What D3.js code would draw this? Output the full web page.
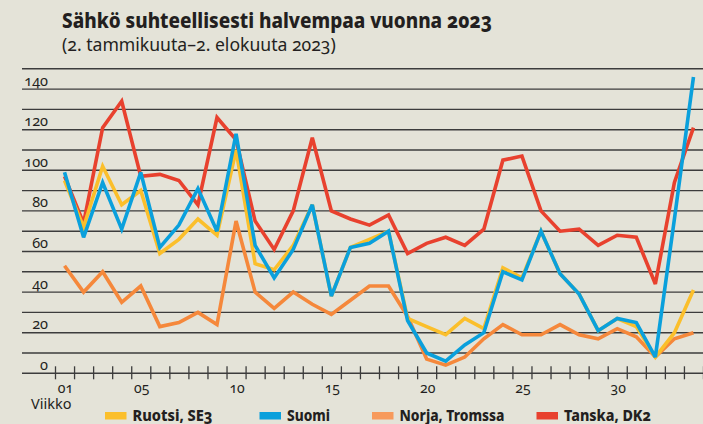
<!DOCTYPE html>
<html>
<head>
<meta charset="utf-8">
<script src="https://cdn.jsdelivr.net/npm/d3@7"></script>
<style>
  html, body { margin: 0; padding: 0; background: #e4e3d8; }
  svg { display: block; font-family: "Noto Sans", "Open Sans", sans-serif; }
  .onum { font-feature-settings: "onum" 1; }
</style>
</head>
<body>
<svg></svg>
<script>
const width = 703;
const height = 424;

// data, week by week (01 .. 34)
const weeks = d3.range(1, 35);
const ruotsi = [95, 72, 102, 83, 90, 59, 66, 76, 68, 110, 54, 51, 63, 83, 38, 62, 66, 70, 27, 23, 19, 27, 22, 52, 47, 70, 49, 39, 21, 27, 23, 8, 20, 41];
const suomi = [99, 67, 94, 71, 99, 62, 73, 91, 70, 118, 63, 47, 61, 83, 38, 62, 64, 70, 26, 10, 6, 14, 20, 50, 46, 70, 49, 39, 21, 27, 25, 8, 76, 146];
const norja = [53, 40, 50, 35, 43, 23, 25, 30, 24, 75, 40, 32, 40, 34, 29, 36, 43, 43, 28, 7, 4, 8, 17, 24, 19, 19, 24, 19, 17, 22, 18, 8, 17, 20];
const tanska = [97, 74, 121, 134, 97, 98, 95, 83, 126, 115, 75, 61, 80, 116, 80, 76, 73, 78, 59, 64, 67, 63, 71, 105, 107, 80, 70, 71, 63, 68, 67, 44, 94, 121];

const seriesNames = ["Ruotsi, SE3", "Suomi", "Norja, Tromssa", "Tanska, DK2"];
const seriesColors = ["#fbbf2b", "#0aa0dc", "#f5883b", "#e8412e"];
const weekTicks = [1, 5, 10, 15, 20, 25, 30];
const valueTicks = [0, 20, 40, 60, 80, 100, 120, 140];

const svg = d3.select("svg")
  .attr("width", width)
  .attr("height", height);

svg.append("rect")
  .attr("width", width)
  .attr("height", height)
  .attr("fill", "#e4e3d8");

const x = d3.scaleLinear().domain([0.5, 34.5]).range([55, 703]);
const y = d3.scaleLinear().domain([0, 150]).range([373.3, 68.8]);

// title
svg.append("text")
  .attr("class", "onum")
  .attr("x", 62)
  .attr("y", 28)
  .attr("font-size", 21)
  .attr("font-weight", 800)
  .attr("fill", "#231f20")
  .attr("textLength", 430)
  .attr("lengthAdjust", "spacingAndGlyphs")
  .text("Sähkö suhteellisesti halvempaa vuonna 2023");

svg.append("text")
  .attr("class", "onum")
  .attr("x", 62)
  .attr("y", 50.5)
  .attr("font-size", 17.6)
  .attr("fill", "#231f20")
  .text("(2. tammikuuta–2. elokuuta 2023)");

// gridlines every 10
svg.append("g")
  .selectAll("line")
  .data(d3.range(0, 151, 10))
  .join("line")
  .attr("x1", 22)
  .attr("x2", width)
  .attr("y1", d => y(d))
  .attr("y2", d => y(d))
  .attr("stroke", "#3c3c3c")
  .attr("stroke-width", 1.4);

// value labels sit just above their gridline
svg.append("g")
  .selectAll("text")
  .data(valueTicks)
  .join("text")
  .attr("class", "onum")
  .attr("x", 48)
  .attr("y", d => y(d) - 3.5)
  .attr("text-anchor", "end")
  .attr("font-size", 14.5)
  .attr("fill", "#231f20")
  .text(d => d);

// week ticks at week boundaries
const xAxis = d3.axisBottom(x)
  .tickValues(d3.range(0.5, 35, 1))
  .tickSize(13)
  .tickFormat("");

const axisG = svg.append("g")
  .attr("transform", `translate(0, ${y(0) - 7})`)
  .call(xAxis);
axisG.select(".domain").remove();
axisG.selectAll(".tick line")
  .attr("stroke", "#3c3c3c")
  .attr("stroke-width", 1.3);

svg.append("g")
  .selectAll("text")
  .data(weekTicks)
  .join("text")
  .attr("class", "onum")
  .attr("x", d => x(d) + 1)
  .attr("y", 392.5)
  .attr("text-anchor", "middle")
  .attr("font-size", 14)
  .attr("fill", "#231f20")
  .text(d => d3.format("02")(d));

svg.append("text")
  .attr("x", 31)
  .attr("y", 408.5)
  .attr("font-size", 14.5)
  .attr("fill", "#231f20")
  .text("Viikko");

// lines
const line = d3.line()
  .x((d, i) => x(weeks[i]))
  .y(d => y(d));

const drawOrder = [
  { values: norja, color: seriesColors[2] },
  { values: tanska, color: seriesColors[3] },
  { values: ruotsi, color: seriesColors[0] },
  { values: suomi, color: seriesColors[1] }
];

svg.append("g")
  .selectAll("path")
  .data(drawOrder)
  .join("path")
  .attr("d", d => line(d.values))
  .attr("fill", "none")
  .attr("stroke", d => d.color)
  .attr("stroke-width", 3.6)
  .attr("stroke-linejoin", "miter")
  .attr("stroke-miterlimit", 3);

// legend
const legendX = [105, 259.5, 372, 536.5];
const legendTextW = [80, 43, 105, 87];

const legend = svg.append("g")
  .selectAll("g")
  .data(seriesNames)
  .join("g")
  .attr("transform", (d, i) => `translate(${legendX[i]}, 412)`);

legend.append("rect")
  .attr("width", 21.5)
  .attr("height", 7.5)
  .attr("fill", (d, i) => i === 2 ? "#f79a5c" : seriesColors[i]);

legend.append("text")
  .attr("class", "onum")
  .attr("x", 27.5)
  .attr("y", 8.8)
  .attr("font-size", 15)
  .attr("font-weight", 800)
  .attr("fill", "#231f20")
  .attr("textLength", (d, i) => legendTextW[i])
  .attr("lengthAdjust", "spacingAndGlyphs")
  .text(d => d);
</script>
</body>
</html>
